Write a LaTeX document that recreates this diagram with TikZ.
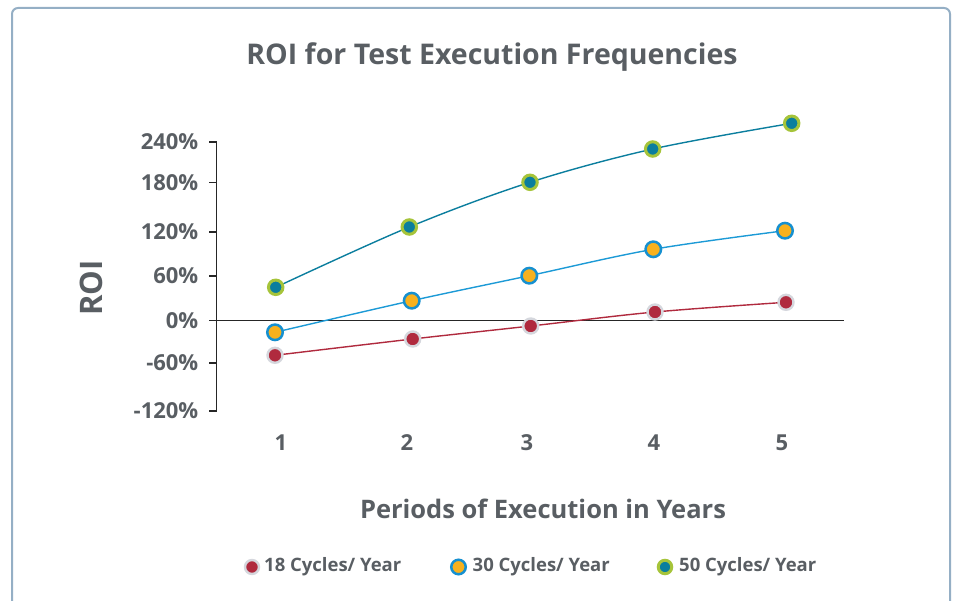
\documentclass[tikz,border=0pt]{standalone}
\usepackage{fontspec}
\setmainfont{Open Sans}
\usetikzlibrary{positioning}

\definecolor{txtgray}{HTML}{595E63}
\definecolor{framecol}{HTML}{95AFC5}
\definecolor{dotA}{HTML}{B02A3E}
\definecolor{ringA}{HTML}{D5D7DD}
\definecolor{dotB}{HTML}{F7B11E}
\definecolor{ringB}{HTML}{1690D0}
\definecolor{lineB}{HTML}{1C9AD6}
\definecolor{dotC}{HTML}{0B7E9E}
\definecolor{ringC}{HTML}{A6C43A}

\tikzset{
  lbl/.style={font=\bfseries\fontsize{22}{22}\selectfont,text=txtgray,inner sep=0pt},
  leglbl/.style={font=\bfseries\fontsize{18.5}{18.5}\selectfont,text=txtgray,inner sep=0pt,anchor=west},
  markA/.style={circle,draw=ringA,fill=dotA,line width=2.4pt,minimum size=15pt,inner sep=0pt},
  markB/.style={circle,draw=ringB,fill=dotB,line width=2.5pt,minimum size=15.5pt,inner sep=0pt},
  markC/.style={circle,draw=ringC,fill=dotC,line width=3pt,minimum size=14.5pt,inner sep=0pt}
}

\begin{document}
\begin{tikzpicture}[x=1pt,y=-1pt,line width=1.4pt]
	\useasboundingbox (0,0) rectangle (954,601);
	\clip (0,0) rectangle (954,601);
	
	%frame
	\draw[framecol,line width=2pt,rounded corners=6pt] (12,8) rectangle (950,640);
	
	%title
	\node[font=\bfseries\fontsize{28.5}{28.5}\selectfont,text=txtgray] (title) at (492,57) {ROI for Test Execution Frequencies};
	
	%axes
	\coordinate (ytop) at (216.7,142);
	\coordinate (ybot) at (216.7,411);
	\coordinate (zl) at (209,320.5);
	\coordinate (zr) at (844,320.5);
	\draw[black!85] (ytop) -- (ybot);
	\draw[black!85] (zl) -- (zr);
	\foreach \y/\t in {142/240\%,182.5/180\%,232/120\%,276/60\%,320.5/0\%,363/-60\%,411/-120\%}{
		\draw[black!85] (209,\y) -- (216.7,\y);
		\node[lbl,anchor=east] (yt\y) at (199,\y) {\t};
	}
	\foreach \x [count=\i] in {281,407,527,654,782}
		\node[lbl] (xt\i) at (\x,443) {\i};
	
	\node[font=\bfseries\fontsize{31}{31}\selectfont,text=txtgray,rotate=90] (ylabel) at (91,288) {ROI};
	\node[font=\bfseries\fontsize{25.5}{25.5}\selectfont,text=txtgray] (xlabel) at (543,509) {Periods of Execution in Years};
	
	%data
	\foreach \x/\y [count=\i] in {275/355.3,412.7/339,530.7/326,655/312,786/302.3}
		\coordinate (a\i) at (\x,\y);
	\foreach \x/\y [count=\i] in {275/332.3,411.7/300.7,529.3/275.7,653.3/249.3,785/230.7}
		\coordinate (b\i) at (\x,\y);
	\foreach \x/\y [count=\i] in {275.7/287.3,409.3/227,530/182.3,652.7/149,791.7/123.3}
		\coordinate (c\i) at (\x,\y);
	
	\draw[dotA] plot[smooth,tension=0.55] coordinates {(a1) (a2) (a3) (a4) (a5)};
	\draw[lineB] plot[smooth,tension=0.55] coordinates {(b1) (b2) (b3) (b4) (b5)};
	\draw[dotC] plot[smooth,tension=0.55] coordinates {(c1) (c2) (c3) (c4) (c5)};
	
	\foreach \i in {1,...,5}{
		\node[markA] (pa\i) at (a\i) {};
		\node[markB] (pb\i) at (b\i) {};
		\node[markC] (pc\i) at (c\i) {};
	}
	
	%legend
	\node[markA,minimum size=14pt] (la) at (252,567) {};
	\node[leglbl] (lta) at (263.5,567) {18 Cycles/ Year};
	\node[markB,minimum size=14.5pt] (lb) at (458.5,567) {};
	\node[leglbl] (ltb) at (472,567) {30 Cycles/ Year};
	\node[markC,minimum size=13.5pt] (lc) at (665,567) {};
	\node[leglbl] (ltc) at (678.5,567) {50 Cycles/ Year};
\end{tikzpicture}
\end{document}
